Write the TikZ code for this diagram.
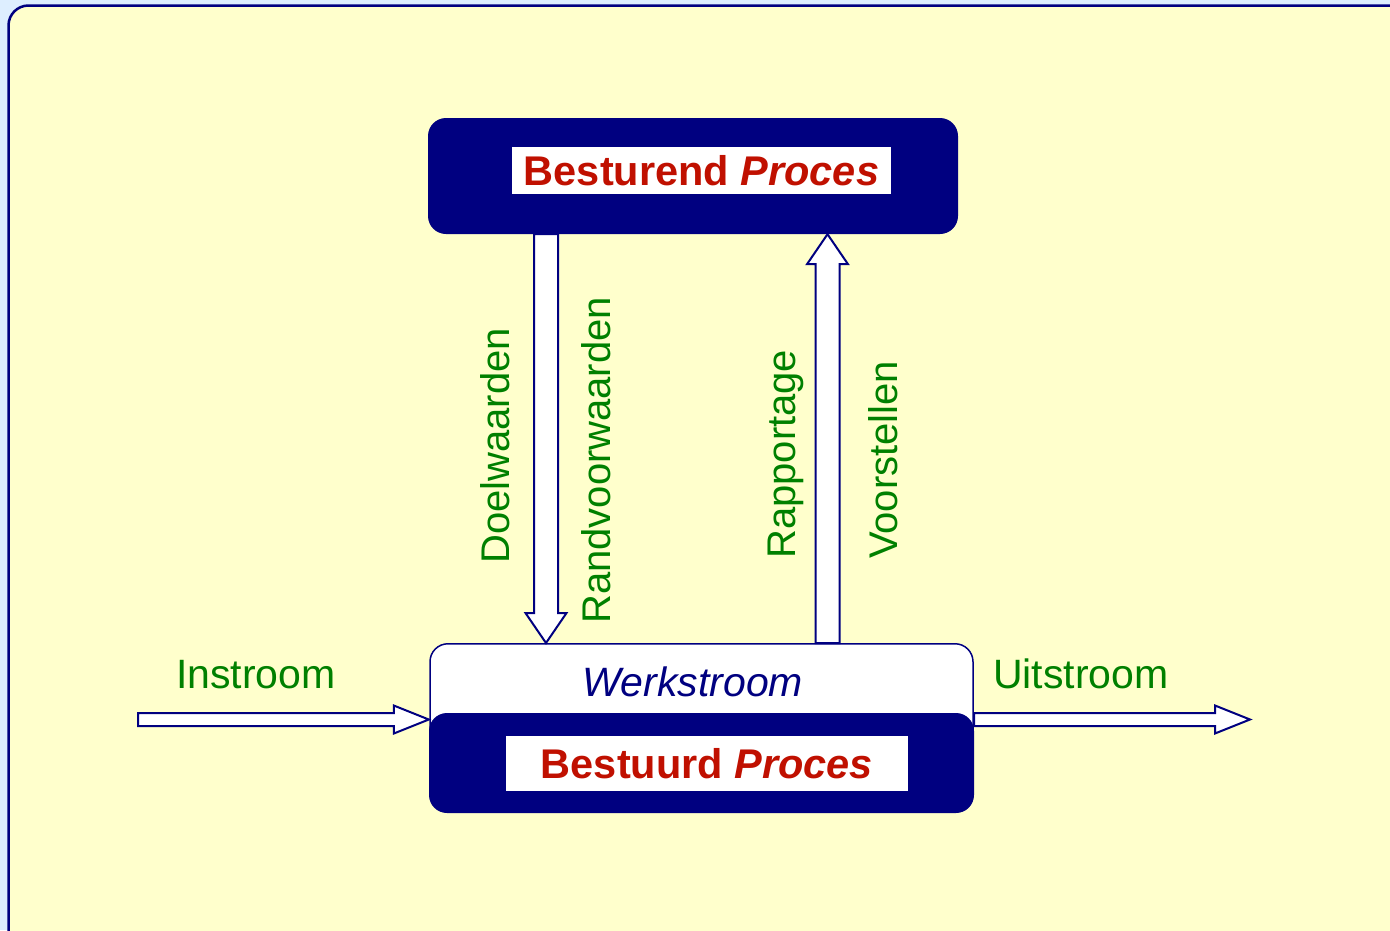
\documentclass[tikz,border=0pt]{standalone}
\usepackage{fontspec}
\setmainfont{Liberation Sans}
\usetikzlibrary{calc}

\definecolor{navy}{RGB}{0,0,128}
\definecolor{procred}{RGB}{192,16,0}
\definecolor{flowgreen}{RGB}{0,128,0}
\definecolor{paper}{RGB}{255,255,204}
\definecolor{sky}{RGB}{221,238,255}

\tikzset{
    navybox/.style={fill=navy, rounded corners=18pt},
    labelbox/.style={fill=white, text=procred, font=\fontsize{41.5}{49}\selectfont\bfseries},
    workbox/.style={draw=navy, line width=1.5pt, fill=white, rounded corners=18pt},
    flowtext/.style={text=flowgreen, font=\fontsize{41}{49}\selectfont},
    sidetext/.style={flowtext, font=\fontsize{40}{48}\selectfont, rotate=90, anchor=base west},
    flow/.style={draw=navy, line width=2pt, fill=white, line join=miter}
}

\newcommand{\fatarrow}[5]{%
    \coordinate (neck) at ($(#2)!#5!(#1)$);
    \draw[flow] ($(#1)!#3!90:(#2)$) -- ($(neck)!#3!-90:(#1)$) -- ($(neck)!#4!-90:(#1)$) -- (#2)
        -- ($(neck)!#4!90:(#1)$) -- ($(neck)!#3!90:(#1)$) -- ($(#1)!#3!-90:(#2)$) -- cycle;
}

\begin{document}
\begin{tikzpicture}[x=1pt, y=-1pt, inner sep=0pt]
    \useasboundingbox (0,0) rectangle (1390,930);
    \clip (0,0) rectangle (1390,930);
    \fill[sky] (0,0) rectangle (1390,930);
    \draw[navy, line width=2.5pt, fill=paper, rounded corners=20pt] (8.5,5.5) rectangle (1420,960);

    \node[navybox, minimum width=530, minimum height=116] (besturend) at (693,176) {};
    \node[labelbox, minimum width=379, minimum height=47] (besturendlabel) at (701.5,170.5) {Besturend \textit{Proces}};

    \node[workbox, minimum width=543, minimum height=110, anchor=north] (werk) at (701.5,643) {};
    \node[anchor=base, text=navy, font=\fontsize{41}{49}\selectfont\itshape] (werklabel) at (693,696) {Werkstroom};

    \node[navybox, minimum width=545, minimum height=100] (bestuurd) at (701.5,763) {};
    \node[labelbox, minimum width=402, minimum height=55] (bestuurdlabel) at (707,763.5) {Bestuurd \textit{Proces}};

    \coordinate (doelx) at (546,0);
    \coordinate (rapx) at (827.5,0);
    \coordinate (instart) at (138,719.5);
    \coordinate (uitend) at (1250,719.5);

    \fatarrow{besturend.south -| doelx}{werk.north -| doelx}{12pt}{20.5pt}{30pt}
    \fatarrow{werk.north -| rapx}{besturend.south -| rapx}{12pt}{20.5pt}{30pt}
    \fatarrow{instart}{instart -| bestuurd.west}{6.5pt}{14pt}{35pt}
    \fatarrow{bestuurd.east |- uitend}{uitend}{6.5pt}{14pt}{35pt}

    \node[sidetext] (doel) at (509,564) {Doelwaarden};
    \node[sidetext] (rand) at (610,624) {Randvoorwaarden};
    \node[sidetext] (rap) at (795,559) {Rapportage};
    \node[sidetext] (voor) at (897,559) {Voorstellen};

    \node[flowtext, anchor=base west] (in) at (176,688) {Instroom};
    \node[flowtext, anchor=base west] (uit) at (993,688) {Uitstroom};
\end{tikzpicture}
\end{document}
